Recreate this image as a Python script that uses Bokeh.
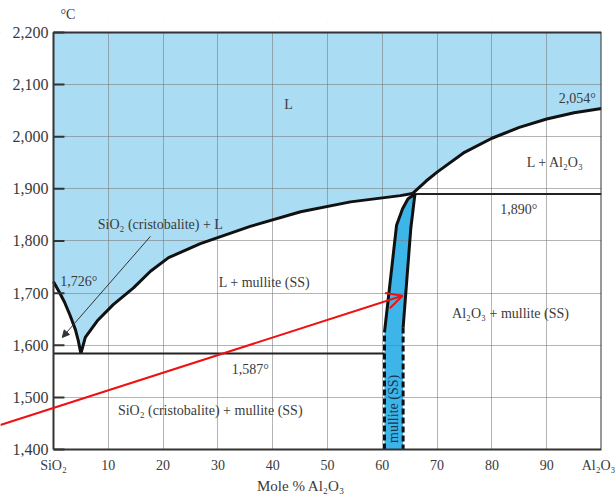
from bokeh.plotting import figure
from bokeh.models import Range1d, FixedTicker, Arrow, NormalHead, OpenHead
from bokeh.core.properties import value
from bokeh.embed import file_html
from bokeh.resources import INLINE

# ---------------- data ----------------
x_ticks = [0, 10, 20, 30, 40, 50, 60, 70, 80, 90, 100]
x_tick_labels = {0: "SiO\u2082", 100: "Al\u2082O\u2083"}
y_ticks = [1400, 1500, 1600, 1700, 1800, 1900, 2000, 2100, 2200]
y_tick_labels = ["1,400", "1,500", "1,600", "1,700", "1,800", "1,900", "2,000", "2,100", "2,200"]

# liquidus, SiO2 side (from pure SiO2 down to eutectic)
liq_left_x = [0, 1, 2, 3, 4, 4.5, 5]
liq_left_t = [1722, 1703, 1683, 1658, 1630, 1610, 1584]
# liquidus from eutectic up to the peritectic (mullite)
liq_mid_x = [5, 5.8, 8, 10.9, 14.6, 17.7, 21, 26.8, 35.9, 45.1, 54.2, 63.3, 65.5]
liq_mid_t = [1584, 1615, 1647, 1678, 1710, 1742, 1768, 1795, 1828, 1856, 1875, 1887, 1891]
# liquidus, Al2O3 side
liq_al_x = [65.5, 68, 70, 75, 80, 85, 90, 95, 100]
liq_al_t = [1891, 1915, 1932, 1970, 1997, 2018, 2034, 2046, 2054]

eutectic_t = 1584
eutectic_x = [0, 60.4]
peritectic_t = 1890
peritectic_x = [65.5, 100]

# mullite solid-solution field
mul_left_solid_x = [60.4, 62.6, 63.7, 64.7, 66.0]
mul_left_solid_t = [1625, 1830, 1862, 1881, 1890]
mul_left_dash_x = [60.4, 60.4]
mul_left_dash_t = [1400, 1625]
mul_right_solid_x = [66.0, 65.9, 65.2, 63.8]
mul_right_solid_t = [1890, 1885, 1824, 1634]
mul_right_dash_x = [63.8, 63.8]
mul_right_dash_t = [1634, 1400]

# text labels (x %, T), text
label_texts = ["L", "2,054\u00b0", "L + Al\u2082O\u2083", "1,890\u00b0",
               "SiO\u2082 (cristobalite) + L", "1,726\u00b0", "L + mullite (SS)",
               "Al\u2082O\u2083 + mullite (SS)", "1,587\u00b0",
               "SiO\u2082 (cristobalite) + mullite (SS)"]
label_x = [42.9, 95.6, 91.6, 84.9, 19.5, 4.6, 38.5, 83.4, 35.9, 28.6]
label_t = [2062, 2073, 1951, 1860, 1832, 1723, 1721, 1660, 1554, 1474]

mullite_label = "mullite (SS)"
mullite_label_pos = [62.0, 1478]

# pointer arrow (black) and red arrow
pointer_start = [17.7, 1809]
pointer_end = [1.6, 1615]
red_start = [-9.7, 1447]
red_end = [63.7, 1695]

X_MIN, X_MAX = 0, 100
T_MIN, T_MAX = 1400, 2200
# view slightly larger than the diagram: room for y tick labels and the red arrow tail
X_VIEW_MIN = -9.67
T_VIEW_MIN, T_VIEW_MAX = 1386.7, 2219.0

# ---------------- figure ----------------
SERIF = "Liberation Serif"
TXT = "#3a3a3a"
LIGHT = "#aadcf4"
DARK = "#3db5e8"
EDGE = "#333333"

p = figure(width=615, height=496, output_backend="svg", toolbar_location=None,
           x_range=Range1d(X_VIEW_MIN, X_MAX), y_range=Range1d(T_VIEW_MIN, T_VIEW_MAX),
           y_axis_location=None,
           min_border_left=0, min_border_right=14, min_border_top=22, min_border_bottom=36)
p.background_fill_color = "white"
p.border_fill_color = "white"
p.outline_line_color = None

p.title.text = "\u00b0C"
p.title.align = "left"
p.title.offset = 60
p.title.standoff = 2
p.title.text_font = SERIF
p.title.text_font_size = "14px"
p.title.text_font_style = "normal"
p.title.text_color = TXT

# fills
liq_poly_x = [X_MIN, X_MAX] + liq_al_x[::-1] + liq_mid_x[::-1] + liq_left_x[::-1]
liq_poly_t = [T_MAX, T_MAX] + liq_al_t[::-1] + liq_mid_t[::-1] + liq_left_t[::-1]
r1 = p.patch(liq_poly_x, liq_poly_t, fill_color=LIGHT, line_color=None)
r1.level = "image"

mul_poly_x = mul_left_dash_x + mul_left_solid_x + mul_right_solid_x + mul_right_dash_x
mul_poly_t = mul_left_dash_t + mul_left_solid_t + mul_right_solid_t + mul_right_dash_t
r2 = p.patch(mul_poly_x, mul_poly_t, fill_color=DARK, line_color=None)
r2.level = "image"

# white margins around the diagram (hide grid lines there)
p.quad(left=[X_VIEW_MIN, X_VIEW_MIN, X_VIEW_MIN], right=[X_MIN, X_MAX, X_MAX],
       bottom=[T_VIEW_MIN, T_MAX, T_VIEW_MIN], top=[T_VIEW_MAX, T_VIEW_MAX, T_MIN],
       fill_color="white", line_color=None)

# curves
for xs, ts in [(liq_left_x, liq_left_t), (liq_mid_x, liq_mid_t), (liq_al_x, liq_al_t)]:
    p.line(xs, ts, line_color="#111111", line_width=3)
p.line(eutectic_x, [eutectic_t] * 2, line_color="#222222", line_width=2)
p.line(peritectic_x, [peritectic_t] * 2, line_color="#222222", line_width=2)
p.line(mul_left_solid_x, mul_left_solid_t, line_color="#111111", line_width=3)
p.line(mul_right_solid_x, mul_right_solid_t, line_color="#111111", line_width=3)
p.line(mul_left_dash_x, mul_left_dash_t, line_color="#111111", line_width=3, line_dash="6 3")
p.line(mul_right_dash_x, mul_right_dash_t, line_color="#111111", line_width=3, line_dash="6 3")

# frame box
p.line([X_MIN, X_MIN, X_MAX, X_MAX, X_MIN], [T_MIN, T_MAX, T_MAX, T_MIN, T_MIN],
       line_color=EDGE, line_width=2)
# y ticks (inward) and y tick labels
p.segment(x0=[X_MIN] * len(y_ticks), y0=y_ticks, x1=[X_MIN + 2.0] * len(y_ticks), y1=y_ticks,
          line_color=EDGE, line_width=2)
p.text([X_MIN - 0.9] * len(y_ticks), y_ticks, text=y_tick_labels, text_font=value(SERIF),
       text_font_size="16px", text_color=TXT, text_align="right", text_baseline="middle")

# labels
p.text(label_x, label_t, text=label_texts, text_font=value(SERIF), text_font_size="14px",
       text_color=TXT, text_align="center", text_baseline="middle")
p.text([mullite_label_pos[0]], [mullite_label_pos[1]], text=[mullite_label],
       text_font=value(SERIF), text_font_size="14px", text_color="#1a3550",
       text_align="center", text_baseline="middle", angle=1.5708)

p.add_layout(Arrow(end=NormalHead(size=7, fill_color=EDGE, line_color=EDGE),
                   x_start=pointer_start[0], y_start=pointer_start[1],
                   x_end=pointer_end[0], y_end=pointer_end[1],
                   line_color=EDGE, line_width=1))
p.add_layout(Arrow(end=OpenHead(size=16, line_color="#ee1111", line_width=2),
                   x_start=red_start[0], y_start=red_start[1],
                   x_end=red_end[0], y_end=red_end[1],
                   line_color="#ee1111", line_width=2))

# x axis
p.xaxis.ticker = FixedTicker(ticks=x_ticks)
p.xaxis.major_label_overrides = x_tick_labels
p.xaxis.axis_label = "Mole % Al\u2082O\u2083"
p.xaxis.axis_line_color = None
p.xaxis.major_label_text_font = SERIF
p.xaxis.major_label_text_font_size = "14px"
p.xaxis.major_label_text_color = TXT
p.xaxis.minor_tick_line_color = None
p.xaxis.major_tick_line_color = None
p.xaxis.major_tick_in = 0
p.xaxis.major_tick_out = 0
p.xaxis.major_label_standoff = 1
p.xaxis.axis_label_standoff = 2
p.xaxis.axis_label_text_font = SERIF
p.xaxis.axis_label_text_font_size = "15px"
p.xaxis.axis_label_text_font_style = "normal"
p.xaxis.axis_label_text_color = TXT

p.xgrid.ticker = FixedTicker(ticks=x_ticks)
p.ygrid.ticker = FixedTicker(ticks=y_ticks)
for g in (p.xgrid, p.ygrid):
    g.grid_line_color = "#777777"
    g.grid_line_alpha = 0.55
    g.grid_line_width = 1

open("out.html", "w").write(file_html(p, INLINE))
